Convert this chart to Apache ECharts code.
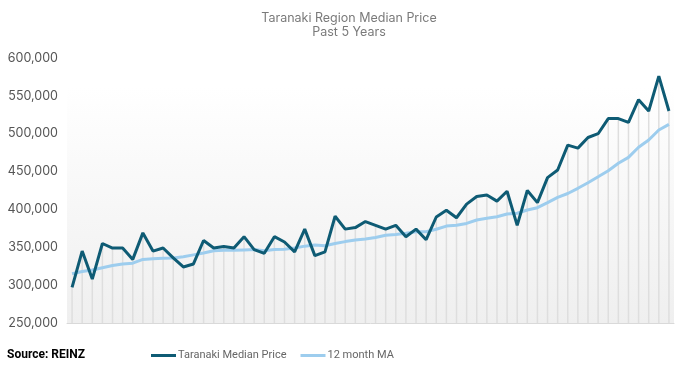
<!DOCTYPE html>
<html>
<head>
<meta charset="utf-8">
<script src="https://cdn.jsdelivr.net/npm/echarts@6/dist/echarts.min.js"></script>
<style>
html,body{margin:0;padding:0;background:#fff;}
#chart{width:690px;height:370px;}
</style>
</head>
<body>
<div id="chart"></div>
<script>
const categories = [
  "Aug-16","Sep-16","Oct-16","Nov-16","Dec-16",
  "Jan-17","Feb-17","Mar-17","Apr-17","May-17","Jun-17","Jul-17","Aug-17","Sep-17","Oct-17","Nov-17","Dec-17",
  "Jan-18","Feb-18","Mar-18","Apr-18","May-18","Jun-18","Jul-18","Aug-18","Sep-18","Oct-18","Nov-18","Dec-18",
  "Jan-19","Feb-19","Mar-19","Apr-19","May-19","Jun-19","Jul-19","Aug-19","Sep-19","Oct-19","Nov-19","Dec-19",
  "Jan-20","Feb-20","Mar-20","Apr-20","May-20","Jun-20","Jul-20","Aug-20","Sep-20","Oct-20","Nov-20","Dec-20",
  "Jan-21","Feb-21","Mar-21","Apr-21","May-21","Jun-21","Jul-21"
];
const medianPrice = [
  297000, 345000, 308000, 355000, 349000, 349000, 334000, 369000, 345000, 349000,
  336000, 324000, 328000, 359000, 349000, 351000, 349000, 364000, 347000, 342000,
  364000, 357000, 344000, 374000, 339000, 344000, 391000, 374000, 376000, 384000,
  379000, 374000, 379000, 364000, 374000, 360000, 390000, 399000, 389000, 407000,
  417000, 419000, 411000, 424000, 379000, 425000, 409000, 442000, 452000, 485000,
  481000, 495000, 500000, 520000, 520000, 515000, 545000, 530000, 576000, 530000
];
const movingAvg = [
  315000, 318000, 320000, 323000, 326000, 328000, 329000, 334000, 335000, 335500,
  336000, 337500, 340000, 342500, 345500, 346000, 346000, 346500, 347000, 345500,
  347000, 347500, 349000, 351500, 353000, 352000, 355000, 357500, 359500, 361000,
  363000, 365800, 367000, 368500, 370500, 370500, 373800, 378000, 379000, 381500,
  386000, 388300, 390400, 394000, 395000, 399200, 402300, 408900, 416000, 421000,
  427900, 435300, 443200, 451200, 460900, 468800, 482100, 491700, 504900, 512400
];
const yTicks = { min: 250000, max: 600000, interval: 50000 };
const backdropTop = 562000;

const chart = echarts.init(document.getElementById('chart'), null, { renderer: 'canvas' });
const fontFamily = 'Inter, Roboto, "Noto Sans", sans-serif';
chart.setOption({
  animation: false,
  backgroundColor: '#ffffff',
  title: {
    text: 'Taranaki Region Median Price\nPast 5 Years',
    left: 344,
    textAlign: 'center',
    top: 6,
    textStyle: { color: '#7a7a7a', fontSize: 12.5, fontWeight: 'normal', fontFamily: fontFamily, lineHeight: 14 }
  },
  legend: {
    data: ['Taranaki Median Price', '12 month MA'],
    icon: 'rect',
    left: 146,
    top: 345,
    itemWidth: 25,
    itemHeight: 3,
    itemGap: 14,
    textStyle: { color: '#666666', fontSize: 11, fontFamily: 'Roboto, sans-serif', padding: [0, 0, 0, -3] }
  },
  graphic: [{
    type: 'text',
    left: 7,
    top: 349,
    style: { text: 'Source: REINZ', fill: '#000000', font: 'bold 12px Roboto, sans-serif' }
  }],
  grid: { left: 67, right: 16, top: 58, bottom: 47, containLabel: false },
  xAxis: {
    type: 'category',
    data: categories,
    boundaryGap: true,
    axisLine: { show: true, lineStyle: { color: '#d9d9d9', width: 1 } },
    axisTick: { show: false },
    axisLabel: { show: false },
    splitLine: { show: false }
  },
  yAxis: {
    type: 'value',
    min: yTicks.min,
    max: yTicks.max,
    interval: yTicks.interval,
    axisLine: { show: false },
    axisTick: { show: false },
    splitLine: { show: false },
    axisLabel: {
      color: '#555555',
      fontSize: 12.5,
      fontFamily: fontFamily,
      margin: 9,
      formatter: v => v.toLocaleString('en-US')
    }
  },
  series: [
    {
      name: 'drop',
      type: 'bar',
      data: medianPrice,
      barWidth: 1.5,
      itemStyle: { color: '#dedede' },
      z: 1,
      silent: true,
      markArea: {
        silent: true,
        itemStyle: {
          color: {
            type: 'linear', x: 0, y: 0, x2: 0, y2: 1,
            colorStops: [{ offset: 0, color: '#ffffff' }, { offset: 1, color: '#efefef' }]
          }
        },
        data: [[{ yAxis: yTicks.min }, { yAxis: backdropTop }]]
      }
    },
    {
      name: '12 month MA',
      type: 'line',
      data: movingAvg,
      symbol: 'none',
      lineStyle: { color: '#9dcdee', width: 3 },
      itemStyle: { color: '#9dcdee' },
      z: 3
    },
    {
      name: 'Taranaki Median Price',
      type: 'line',
      data: medianPrice,
      symbol: 'none',
      lineStyle: { color: '#0e5b74', width: 3 },
      itemStyle: { color: '#0e5b74' },
      z: 4
    }
  ]
});
</script>
</body>
</html>
